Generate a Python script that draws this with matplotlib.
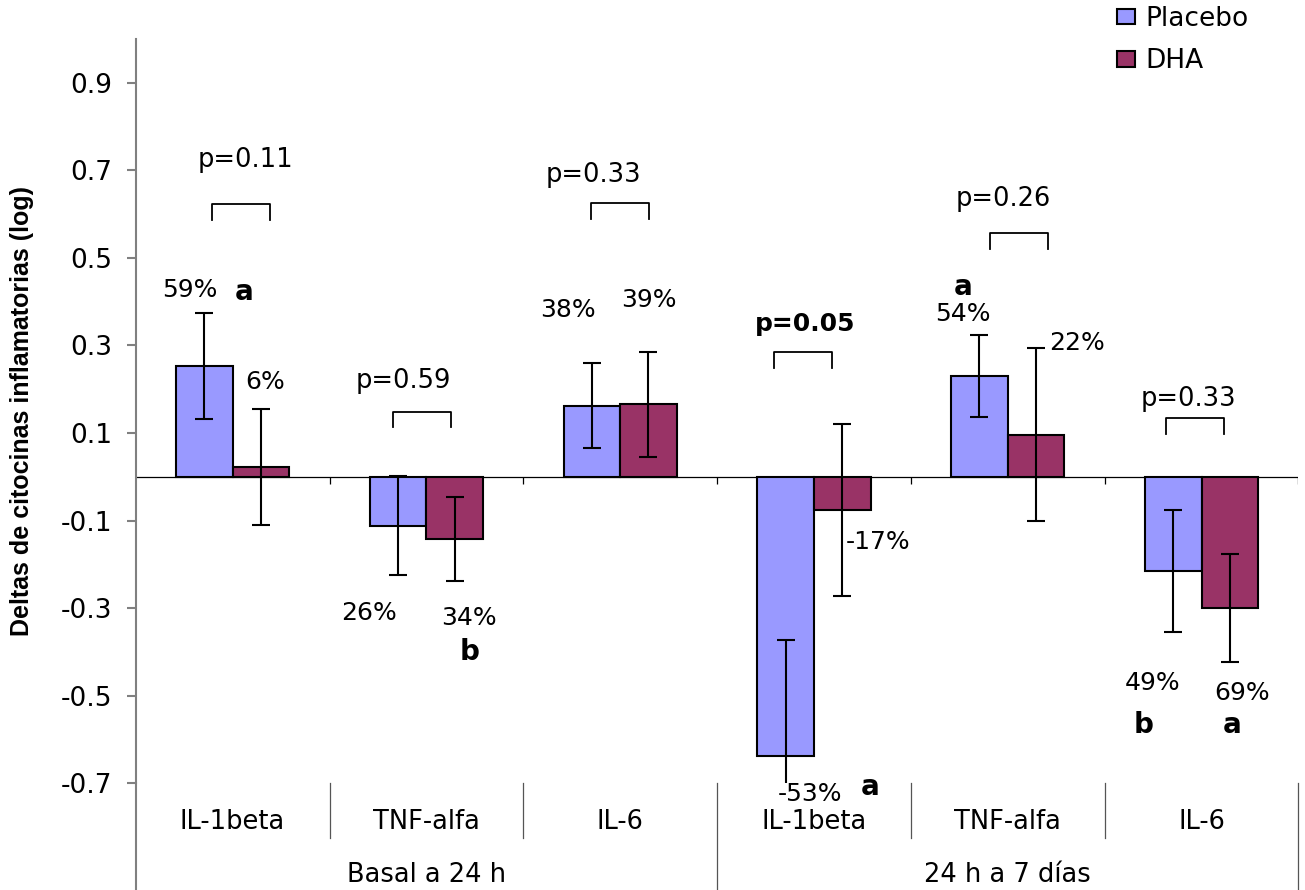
import matplotlib.pyplot as plt
from matplotlib.patches import Rectangle

plt.rcParams['font.family'] = 'DejaVu Sans'
plt.rcParams['axes.unicode_minus'] = False

# data
categories = ["IL-1beta", "TNF-alfa", "IL-6", "IL-1beta", "TNF-alfa", "IL-6"]
groups = ["Basal a 24 h", "24 h a 7 días"]
placebo = [0.253, -0.112, 0.162, -0.637, 0.230, -0.215]
placebo_err = [0.122, 0.113, 0.097, 0.264, 0.093, 0.140]
dha = [0.023, -0.143, 0.166, -0.076, 0.096, -0.300]
dha_err = [0.133, 0.096, 0.120, 0.196, 0.198, 0.123]
yticks = [-0.7, -0.5, -0.3, -0.1, 0.1, 0.3, 0.5, 0.7, 0.9]
ytick_labels = ["-0.7", "-0.5", "-0.3", "-0.1", "0.1", "0.3", "0.5", "0.7", "0.9"]

p_values = ["p=0.11", "p=0.59", "p=0.33", "p=0.05", "p=0.26", "p=0.33"]
pct_placebo = ["59%", "26%", "38%", "-53%", "54%", "49%"]
pct_dha = ["6%", "34%", "39%", "-17%", "22%", "69%"]
letters = ["a", "b", "a", "a", "b", "a"]

# annotation placement (x in category units, y in data units, baseline)
p_pos = [(0.567, 0.708), (1.379, 0.203), (2.360, 0.674),
         (3.454, 0.332), (4.478, 0.619), (5.430, 0.162)]
bracket_pos = [(0.392, 0.693, 0.624, 0.587), (1.329, 1.629, 0.147, 0.113),
               (2.348, 2.649, 0.625, 0.588), (3.294, 3.593, 0.284, 0.248),
               (4.408, 4.709, 0.556, 0.521), (5.315, 5.615, 0.134, 0.098)]
pct_placebo_pos = [(0.280, 0.411), (1.204, -0.326), (2.228, 0.365),
                   (3.477, -0.740), (4.269, 0.356), (5.247, -0.487)]
pct_dha_pos = [(0.667, 0.200), (1.720, -0.339), (2.649, 0.388),
               (3.830, -0.166), (4.857, 0.290), (5.708, -0.510)]
letter_pos = [(0.559, 0.404), (1.725, -0.419), (3.789, -0.726),
              (4.269, 0.415), (5.200, -0.586), (5.659, -0.586)]

c_placebo = "#9999FF"
c_dha = "#993366"

fig = plt.figure(figsize=(13.05, 8.9), dpi=100)
ax = fig.add_axes([0.1040, 0.1199, 0.8910, 0.8363])

x = [i + 0.5 for i in range(len(categories))]
w = 0.292
xp = [v - w / 2 for v in x]
xd = [v + w / 2 for v in x]

ax.bar(xp, placebo, w, color=c_placebo, edgecolor="black", linewidth=1.5, zorder=2)
ax.bar(xd, dha, w, color=c_dha, edgecolor="black", linewidth=1.5, zorder=2)
ax.errorbar(xp, placebo, yerr=placebo_err, fmt="none", ecolor="black",
            elinewidth=1.5, capsize=6.5, capthick=1.5, zorder=3)
ax.errorbar(xd, dha, yerr=dha_err, fmt="none", ecolor="black",
            elinewidth=1.5, capsize=6.5, capthick=1.5, zorder=3)

ax.set_xlim(0, 6)
ax.set_ylim(-0.7, 1.0)
ax.set_yticks(yticks)
ax.set_yticklabels(ytick_labels, fontsize=19)
ax.tick_params(axis="y", color="#808080", width=1.5, length=6.5, pad=10.5)
ax.set_xticks([])
for s in ["top", "right", "bottom"]:
    ax.spines[s].set_visible(False)
ax.spines["left"].set_color("#808080")
ax.spines["left"].set_linewidth(1.5)

ax.axhline(0, color="black", lw=0.9, zorder=1)
ax.vlines(range(1, 7), -0.016, 0, color="black", lw=0.9)

# category axis table below the plot
tr = ax.get_xaxis_transform()
ax.plot([0, 0], [0, -0.1434], transform=tr, color="#808080", lw=1.5, clip_on=False)
for b in [1, 2, 4, 5]:
    ax.plot([b, b], [0, -0.0735], transform=tr, color="#555555", lw=0.9, clip_on=False)
for b in [3, 6]:
    ax.plot([b, b], [0, -0.1434], transform=tr, color="#555555", lw=0.9, clip_on=False)
for xi, lab in zip(x, categories):
    ax.text(xi, -0.0614, lab, transform=tr, ha="center", va="baseline", fontsize=18.5)
ax.text(1.5, -0.1326, groups[0], transform=tr, ha="center", va="baseline", fontsize=18.5)
ax.text(4.5, -0.1326, groups[1], transform=tr, ha="center", va="baseline", fontsize=18.5)

# p-values and brackets
for txt, (px, py) in zip(p_values, p_pos):
    if txt == "p=0.05":
        ax.text(px, py, txt, ha="center", va="baseline", fontsize=18, fontweight="bold")
    else:
        ax.text(px, py, txt, ha="center", va="baseline", fontsize=18.5)
for x0, x1, yt, yb in bracket_pos:
    ax.plot([x0, x0, x1, x1], [yb, yt, yt, yb], color="black", lw=1.3)

for txt, (px, py) in zip(pct_placebo, pct_placebo_pos):
    ax.text(px, py, txt, ha="center", va="baseline", fontsize=18)
for txt, (px, py) in zip(pct_dha, pct_dha_pos):
    ax.text(px, py, txt, ha="center", va="baseline", fontsize=18)
for txt, (px, py) in zip(letters, letter_pos):
    ax.text(px, py, txt, ha="center", va="baseline", fontsize=20, fontweight="bold")

fig.text(22 / 1305, 1 - 411 / 890, "Deltas de citocinas inflamatorias (log)",
         rotation=90, ha="center", va="center", fontsize=18, fontweight="bold",
         family=["Liberation Sans", "DejaVu Sans"])

handles = [Rectangle((0, 0), 1, 1, facecolor=c_placebo, edgecolor="black", lw=1.5),
           Rectangle((0, 0), 1, 1, facecolor=c_dha, edgecolor="black", lw=1.5)]
fig.legend(handles, ["Placebo", "DHA"], loc="upper left",
           bbox_to_anchor=(1117 / 1305, 1 - 6 / 890), frameon=False,
           borderpad=0, borderaxespad=0, handlelength=0.68, handleheight=0.53,
           handletextpad=0.4, labelspacing=0.62, fontsize=19)

fig.savefig("out.png", dpi=100)
